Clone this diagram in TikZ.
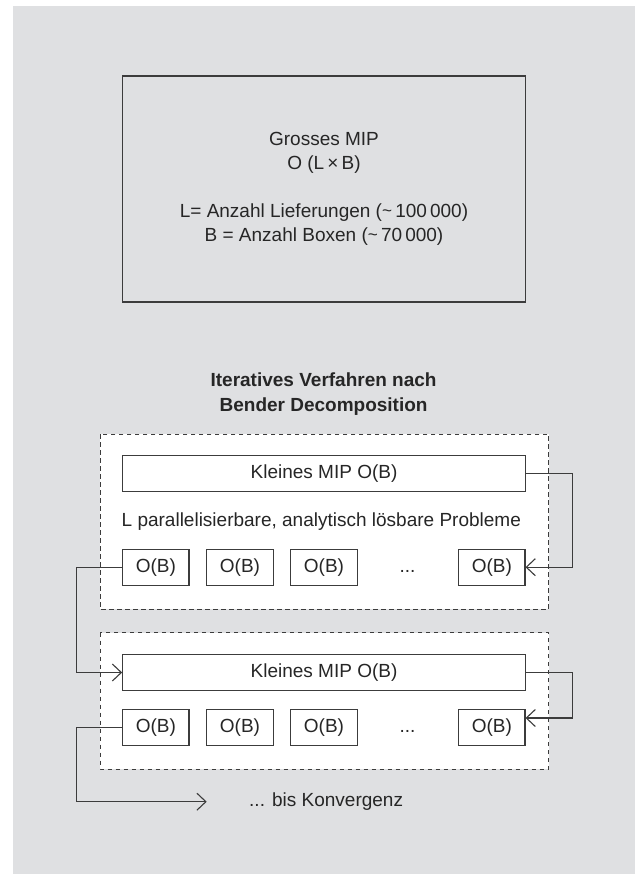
\documentclass[tikz,border=0pt]{standalone}
\usepackage{fontspec}
\setmainfont{Liberation Sans}
\usetikzlibrary{arrows.meta}
\definecolor{bgcol}{HTML}{DFE0E2}
\definecolor{linecol}{HTML}{3C3C3C}
\definecolor{txtcol}{HTML}{262626}
\begin{document}
\begin{tikzpicture}[x=1pt,y=-1pt,
  every node/.style={text=txtcol, font=\fontsize{19}{24}\selectfont},
  bigbox/.style={draw=linecol, line width=1.2pt, minimum width=402.6pt, minimum height=226pt, align=center, inner sep=0pt},
  groupbox/.style={draw=linecol, line width=0.9pt, dash pattern=on 4.5pt off 3.5pt, fill=white},
  mipbox/.style={draw=linecol, line width=1.1pt, fill=white, minimum width=402.6pt, minimum height=36pt, inner sep=0pt},
  obbox/.style={draw=linecol, line width=1.1pt, fill=white, minimum width=66.3pt, minimum height=36.3pt, inner sep=0pt},
  conn/.style={draw=linecol, line width=1.1pt},
  arr/.style={conn, -{Straight Barb[length=9pt, width=17pt, line width=1.1pt]}},
  plain/.style={inner sep=0pt}
]
\useasboundingbox (0,0) rectangle (635,874);
\fill[white] (0,0) rectangle (635,874);
\fill[bgcol] (13,6) rectangle (635,874);

% top box
\node[bigbox] (big) at (324,189) {Grosses MIP\\O (L\,×\,B)\\[24pt]L= Anzahl Lieferungen (\raisebox{1pt}{\scalebox{0.9}{\char"007E}}\,100\,000)\\B = Anzahl Boxen (\raisebox{1pt}{\scalebox{0.9}{\char"007E}}\,70\,000)};

% title
\node[plain, align=center, font=\fontsize{19}{24.3}\selectfont\bfseries] (title) at (323.6,394) {Iteratives Verfahren nach\\Bender Decomposition};

% group boxes
\draw[groupbox] (100,434) rectangle (548.7,609);
\draw[groupbox] (100,632.7) rectangle (548.7,769);

% group 1
\node[mipbox] (mip1) at (324,473.7) {Kleines MIP O(B)};
\node[plain, anchor=west] (ltext) at (121.5,521.7) {L parallelisierbare, analytisch lösbare Probleme};
\node[obbox] (ob11) at (155.85,567.2) {O(B)};
\node[obbox] (ob12) at (240,567.2) {O(B)};
\node[obbox] (ob13) at (324,567.2) {O(B)};
\node[plain] (dots1) at (407.5,567.2) {\vphantom{O(B)}...};
\node[obbox] (ob14) at (491.8,567.2) {O(B)};

% group 2
\node[mipbox] (mip2) at (324,672.5) {Kleines MIP O(B)};
\node[obbox] (ob21) at (155.85,727.5) {O(B)};
\node[obbox] (ob22) at (240,727.5) {O(B)};
\node[obbox] (ob23) at (324,727.5) {O(B)};
\node[plain] (dots2) at (407.5,727.5) {\vphantom{O(B)}...};
\node[obbox] (ob24) at (491.8,727.5) {O(B)};

% end
\coordinate (endpt) at (206.7,801.7);
\node[plain, anchor=west] (conv) at (249,801.7) {... bis Konvergenz};

% connectors
\draw[arr] (mip1.east) -- ++(46.4,0) |- (ob14.east);
\draw[arr] (ob11.west) -- ++(-46,0) |- (mip2.west);
\draw[arr] (mip2.east) -- ++(46.4,0) |- ([yshift=9.5pt]ob24.east);
\draw[arr] (ob21.west) -- ++(-46,0) |- (endpt);
\end{tikzpicture}
\end{document}
